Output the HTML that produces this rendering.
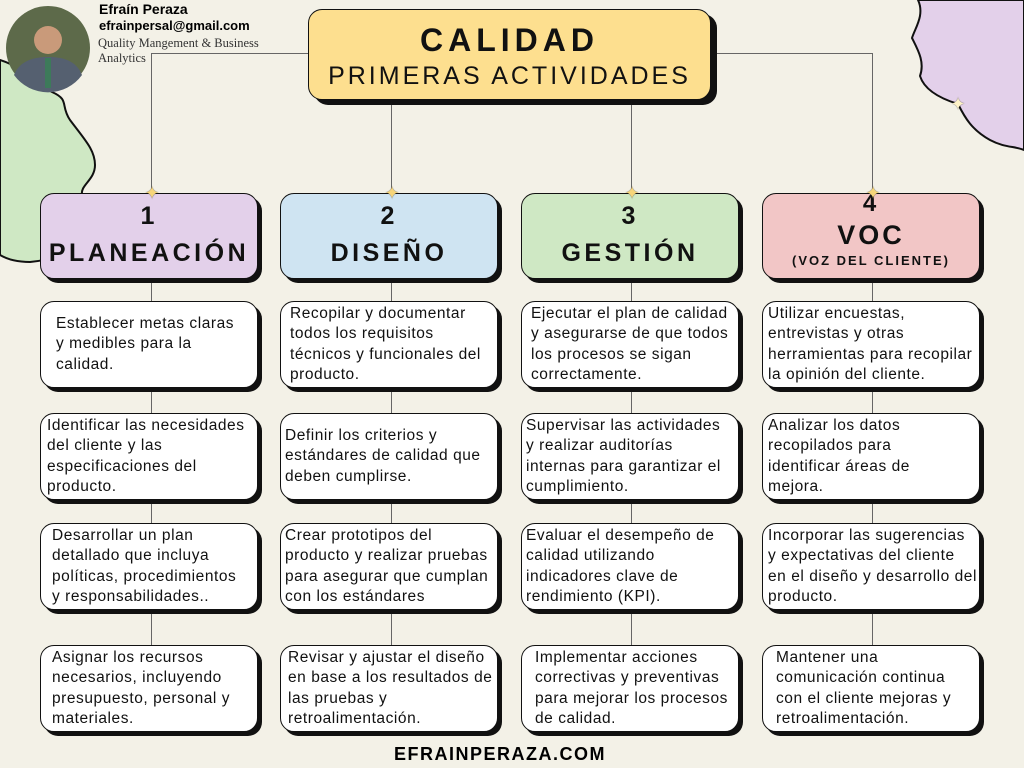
<!DOCTYPE html>
<html><head><meta charset="utf-8"><style>
body{margin:0;width:1024px;height:768px;overflow:hidden;background:#f3f1e7;font-family:"Liberation Sans",sans-serif;position:relative}
.a{position:absolute}
.box{position:absolute;background:#fff;border:1.5px solid #111;border-radius:14px;box-shadow:4px 4px 0 #111;box-sizing:border-box;display:flex;align-items:center;font-size:15.5px;line-height:20.3px;color:#111;letter-spacing:0.55px;white-space:nowrap}
.hd{position:absolute;border:1.5px solid #111;border-radius:14px;box-shadow:4px 4px 0 #111;box-sizing:border-box;text-align:center;font-weight:bold;color:#111;letter-spacing:3px}
.ln{position:absolute;background:#666}
.star{position:absolute;color:#f6d57a;font-size:18px;line-height:18px;width:18px;text-align:center;text-shadow:0 0 1px #222}
</style></head><body>
<svg class="a" style="left:0;top:0" width="1024" height="768">
<path d="M0 60 C25 68 40 85 52 92 C70 100 60 105 70 120 C85 140 95 150 95 165 C95 180 80 185 82 195 C88 210 85 225 80 240 C70 255 50 260 30 262 C15 262 5 258 0 255 Z" fill="#cfe8c4" stroke="#111" stroke-width="2"/>
<path d="M918 0 C925 15 915 28 912 38 C918 50 925 62 920 76 C925 92 945 100 958 104 C965 118 972 130 990 140 C1005 148 1015 146 1024 150 L1024 0 Z" fill="#e3d0ea" stroke="#111" stroke-width="2"/>
<circle cx="48" cy="48" r="42" fill="#5d6a4a"/>
<circle cx="48" cy="40" r="14" fill="#c99a7a"/>
<path d="M14 75 C20 60 35 57 48 57 C62 57 76 60 82 75 A42 42 0 0 1 14 75Z" fill="#556070"/>
<rect x="45" y="58" width="6" height="30" fill="#3d7a5a"/>
</svg>
<div class="star" style="left:949px;top:95px;color:#fff3c8">✦</div>
<div class="a" style="left:99px;top:1px;font-weight:bold;font-size:14px">Efraín Peraza</div>
<div class="a" style="left:99px;top:18px;font-weight:bold;font-size:13px">efrainpersal@gmail.com</div>
<div class="a" style="left:98px;top:36px;font-family:'Liberation Serif',serif;font-size:12.5px;line-height:15px;color:#333">Quality Mangement &amp; Business<br>Analytics</div>

<div class="ln" style="left:151px;top:53px;width:158px;height:1px"></div>
<div class="ln" style="left:151px;top:53px;width:1px;height:140px"></div>
<div class="ln" style="left:710px;top:53px;width:163px;height:1px"></div>
<div class="ln" style="left:872px;top:53px;width:1px;height:140px"></div>
<div class="ln" style="left:391px;top:100px;width:1px;height:93px"></div>
<div class="ln" style="left:631px;top:100px;width:1px;height:93px"></div>
<div class="ln" style="left:151px;top:279px;width:1px;height:450px"></div>
<div class="ln" style="left:391px;top:279px;width:1px;height:450px"></div>
<div class="ln" style="left:631px;top:279px;width:1px;height:450px"></div>
<div class="ln" style="left:872px;top:279px;width:1px;height:450px"></div>

<div class="hd" style="left:308px;top:9px;width:403px;height:91px;background:#fddf8f;box-shadow:6px 5px 0 #111">
<div style="font-size:32px;margin-top:12px;letter-spacing:5px">CALIDAD</div>
<div style="font-size:25px;font-weight:normal;margin-top:3px;letter-spacing:3px">PRIMERAS ACTIVIDADES</div></div>

<div class="hd" style="left:40px;top:193px;width:218px;height:86px;background:#e3d0ea"><div style="font-size:25px;margin-top:8px">1</div><div style="font-size:25px;margin-top:8px;letter-spacing:3.5px">PLANEACIÓN</div></div>
<div class="hd" style="left:280px;top:193px;width:218px;height:86px;background:#cfe4f2"><div style="font-size:25px;margin-top:8px">2</div><div style="font-size:25px;margin-top:8px;letter-spacing:3.5px">DISEÑO</div></div>
<div class="hd" style="left:521px;top:193px;width:218px;height:86px;background:#cfe8c4"><div style="font-size:25px;margin-top:8px">3</div><div style="font-size:25px;margin-top:8px;letter-spacing:3.5px">GESTIÓN</div></div>
<div class="hd" style="left:762px;top:193px;width:218px;height:86px;background:#f2c6c6"><div style="font-size:24px;margin-top:-4px">4</div><div style="font-size:27px;margin-top:2px;letter-spacing:3px">VOC</div><div style="font-size:13px;letter-spacing:2px;margin-top:2px">(VOZ DEL CLIENTE)</div></div>

<div class="star" style="left:143px;top:184px">✦</div>
<div class="star" style="left:383px;top:184px">✦</div>
<div class="star" style="left:623px;top:184px">✦</div>
<div class="star" style="left:864px;top:184px">✦</div>

<div class="box" style="left:40px;top:301px;width:218px;height:87px;padding-left:15px">Establecer metas claras<br>y medibles para la<br>calidad.</div>
<div class="box" style="left:40px;top:413px;width:218px;height:87px;padding-left:6px">Identificar las necesidades<br>del cliente y las<br>especificaciones del<br>producto.</div>
<div class="box" style="left:40px;top:523px;width:218px;height:87px;padding-left:11px">Desarrollar un plan<br>detallado que incluya<br>políticas, procedimientos<br>y responsabilidades..</div>
<div class="box" style="left:40px;top:645px;width:218px;height:87px;padding-left:11px">Asignar los recursos<br>necesarios, incluyendo<br>presupuesto, personal y<br>materiales.</div>

<div class="box" style="left:280px;top:301px;width:218px;height:87px;padding-left:9px">Recopilar y documentar<br>todos los requisitos<br>técnicos y funcionales del<br>producto.</div>
<div class="box" style="left:280px;top:413px;width:218px;height:87px;padding-left:4px">Definir los criterios y<br>estándares de calidad que<br>deben cumplirse.</div>
<div class="box" style="left:280px;top:523px;width:218px;height:87px;padding-left:4px">Crear prototipos del<br>producto y realizar pruebas<br>para asegurar que cumplan<br>con los estándares</div>
<div class="box" style="left:280px;top:645px;width:218px;height:87px;padding-left:7px">Revisar y ajustar el diseño<br>en base a los resultados de<br>las pruebas y<br>retroalimentación.</div>

<div class="box" style="left:521px;top:301px;width:218px;height:87px;padding-left:9px">Ejecutar el plan de calidad<br>y asegurarse de que todos<br>los procesos se sigan<br>correctamente.</div>
<div class="box" style="left:521px;top:413px;width:218px;height:87px;padding-left:4px">Supervisar las actividades<br>y realizar auditorías<br>internas para garantizar el<br>cumplimiento.</div>
<div class="box" style="left:521px;top:523px;width:218px;height:87px;padding-left:4px">Evaluar el desempeño de<br>calidad utilizando<br>indicadores clave de<br>rendimiento (KPI).</div>
<div class="box" style="left:521px;top:645px;width:218px;height:87px;padding-left:13px">Implementar acciones<br>correctivas y preventivas<br>para mejorar los procesos<br>de calidad.</div>

<div class="box" style="left:762px;top:301px;width:218px;height:87px;padding-left:5px">Utilizar encuestas,<br>entrevistas y otras<br>herramientas para recopilar<br>la opinión del cliente.</div>
<div class="box" style="left:762px;top:413px;width:218px;height:87px;padding-left:5px">Analizar los datos<br>recopilados para<br>identificar áreas de<br>mejora.</div>
<div class="box" style="left:762px;top:523px;width:218px;height:87px;padding-left:5px">Incorporar las sugerencias<br>y expectativas del cliente<br>en el diseño y desarrollo del<br>producto.</div>
<div class="box" style="left:762px;top:645px;width:218px;height:87px;padding-left:13px">Mantener una<br>comunicación continua<br>con el cliente mejoras y<br>retroalimentación.</div>

<div class="a" style="left:-12px;width:1024px;top:744px;text-align:center;font-weight:bold;font-size:18px;letter-spacing:1.5px">EFRAINPERAZA.COM</div>
</body></html>
